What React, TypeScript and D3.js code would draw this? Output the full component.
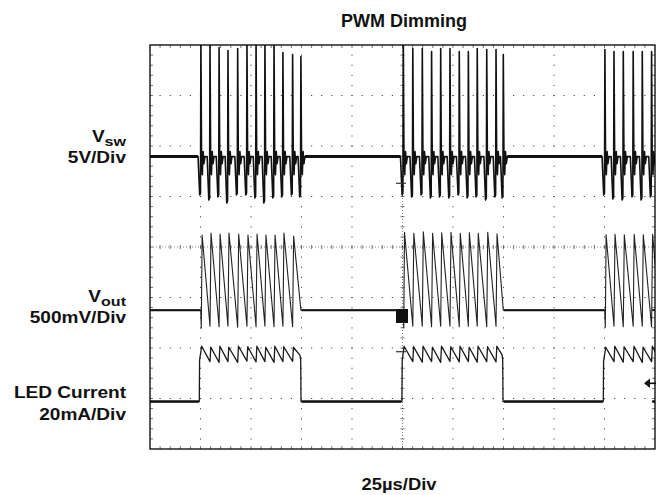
import React from "react";
import * as d3 from "d3";

const W = 657;
const H = 495;
const PLOT = { left: 150, right: 655, top: 45, bottom: 449 };

const TITLE = "PWM Dimming";
const TIME_LABEL = "25µs/Div";
const TIME_SPAN_US = 250; // 10 div x 25 µs
const H_DIVS = 10;
const V_DIVS = 8;

// ---- channel settings ----
const VSW_OFFSET_DIV = 1.79;
const VSW_PER_DIV = 5; // V
const VOUT_OFFSET_DIV = -1.25;
const VOUT_PER_DIV = 500; // mV
const LED_OFFSET_DIV = -3.06;
const LED_PER_DIV = 20; // mA

// ---- switching instants (µs) for the three PWM bursts ----
const burstTimes = [
  [25.2, 29.7, 34.2, 38.6, 43.4, 48.0, 52.5, 56.9, 61.4, 65.8, 70.6, 74.7],
  [125.4, 130.1, 134.8, 139.4, 143.9, 148.5, 153.1, 157.6, 162.0, 166.7, 171.3, 174.9],
  [225.2, 229.7, 234.3, 239.2, 243.7, 248.3],
];

// ---- Vsw (V) ----
const vswPeaks = [
  [11.5, 11.5, 10.8, 10.5, 10.7, 11.5, 11.5, 11.5, 11.5, 10.3, 10.1, 9.9],
  [11.5, 10.7, 10.7, 10.4, 10.7, 10.7, 10.4, 10.4, 10.7, 10.6, 10.6, 10.1],
  [10.6, 10.4, 10.4, 10.4, 10.4, 10.4],
];
const vswDips = [
  [-3.8, -4.3, -4.0, -4.6, -3.8, -3.8, -4.1, -4.6, -4.1, -4.0, -3.8, -4.0],
  [-3.8, -4.0, -3.8, -4.1, -4.0, -4.1, -3.8, -4.1, -4.0, -4.3, -4.0, -4.1],
  [-3.8, -4.2, -4.3, -4.0, -4.3, -4.0],
];

// ---- Vout (mV, AC) ----
const voutPeaks = [
  [743, 762, 752, 762, 752, 743, 752, 743, 743, 762, 733],
  [770, 760, 775, 760, 765, 770, 760, 765, 760, 770, 755],
  [745, 750, 745, 750, 745, 750],
];
const voutValleys = [
  [-160, -165, -158, -168, -160, -165, -158, -165, -160, -163],
  [-160, -158, -165, -160, -158, -165, -160, -158, -163, -160],
  [-160, -165, -160, -158, -165, -160],
];
const voutStartDip = [-178, -175, -170];

// ---- LED current (mA) ----
const ledOnTimes = [24.4, 124.7, 224.4];
const ledOffTimes = [74.6, 174.6];
const ledStep = [16.5, 16.3, 16.0];
const ledPeaks = [
  [21.9, 21.5, 21.9, 21.5, 21.9, 21.7, 21.9, 21.5, 21.9, 21.7, 21.5],
  [21.9, 21.7, 21.9, 21.5, 21.9, 21.7, 21.9, 21.5, 21.9, 21.7, 21.9],
  [21.5, 21.9, 21.7, 21.9, 21.5, 21.9],
];
const ledValleys = [
  [15.8, 15.5, 15.8, 15.5, 16.0, 15.7, 15.8, 15.5, 15.8, 15.9],
  [15.8, 15.6, 15.8, 15.5, 15.9, 15.7, 15.8, 15.6, 15.8, 15.7],
  [15.8, 15.6, 15.8, 15.5, 15.8, 15.6],
];
const ledPreOff = [18.3, 18.5];

const x = d3.scaleLinear().domain([0, TIME_SPAN_US]).range([PLOT.left, PLOT.right]);
const yDiv = d3.scaleLinear().domain([-V_DIVS / 2, V_DIVS / 2]).range([PLOT.bottom, PLOT.top]);

type Pt = [number, number];

function vswPoints(): Pt[] {
  const pts: Pt[] = [[0, 0]];
  burstTimes.forEach((T, b) => {
    T.forEach((t, i) => {
      const P = vswPeaks[b][i];
      const D = vswDips[b][i];
      pts.push(
        [t - 1.4, 0],
        [t - 0.6, D],
        [t - 0.2, D * 0.95],
        [t, P],
        [t + 0.3, 0.6],
        [t + 0.7, -1.8],
        [t + 1.1, 0.5],
        [t + 1.5, -0.7],
        [t + 2.0, 0]
      );
    });
  });
  pts.push([TIME_SPAN_US, 0]);
  return pts;
}

function voutPoints(): Pt[] {
  const pts: Pt[] = [[0, 0]];
  burstTimes.forEach((T, b) => {
    const P = voutPeaks[b];
    const V = voutValleys[b];
    pts.push([T[0] - 0.1, 0], [T[0] + 0.2, voutStartDip[b]], [T[0] + 0.6, P[0]]);
    for (let i = 1; i < P.length; i++) {
      pts.push([T[i], V[i - 1]], [T[i] + 0.5, P[i]]);
    }
    if (T.length > P.length) {
      pts.push([T[T.length - 1], 0], [T[T.length - 1] + 1, 0]);
    } else {
      const last = T[T.length - 1];
      pts.push([last + 4.5, V[V.length - 1]]);
    }
  });
  pts.push([TIME_SPAN_US + 10, 0]);
  return pts.sort((a, b) => a[0] - b[0]);
}

function ledPoints(): Pt[] {
  const pts: Pt[] = [[0, 0]];
  burstTimes.forEach((T, b) => {
    const P = ledPeaks[b];
    const V = ledValleys[b];
    const on = ledOnTimes[b];
    pts.push([on, 0], [on + 0.15, ledStep[b]], [T[0] + 0.4, P[0]]);
    for (let i = 1; i < P.length; i++) {
      pts.push([T[i], V[i - 1]], [T[i] + 0.4, P[i]]);
    }
    if (b < ledOffTimes.length) {
      const off = ledOffTimes[b];
      pts.push([off - 0.3, ledPreOff[b]], [off, ledPreOff[b] - 2], [off + 0.15, 0]);
    } else {
      pts.push([T[T.length - 1] + 4.5, V[V.length - 1]]);
    }
  });
  pts.push([TIME_SPAN_US + 10, 0]);
  return pts;
}

const mkLine = (offset: number, perDiv: number) =>
  d3
    .line<Pt>()
    .x((d) => x(d[0]))
    .y((d) => yDiv(offset + d[1] / perDiv));

const vswLine = mkLine(VSW_OFFSET_DIV, VSW_PER_DIV);
const voutLine = mkLine(VOUT_OFFSET_DIV, VOUT_PER_DIV);
const ledLine = mkLine(LED_OFFSET_DIV, LED_PER_DIV);

// flat (idle) intervals, for thicker noisy baseline look
function idleSegments(pre: number, post: number): Pt[][] {
  const segs: Pt[][] = [];
  let start = 0;
  burstTimes.forEach((T) => {
    segs.push([
      [start, 0],
      [T[0] - pre, 0],
    ]);
    start = T[T.length - 1] + post;
  });
  if (start < TIME_SPAN_US) segs.push([[start, 0], [TIME_SPAN_US, 0]]);
  return segs;
}

function Grid() {
  const dx = (PLOT.right - PLOT.left) / H_DIVS;
  const dy = (PLOT.bottom - PLOT.top) / V_DIVS;
  const els: React.ReactNode[] = [];
  const dotColor = "#4a4a4a";
  for (let k = 1; k < H_DIVS; k++) {
    if (k === H_DIVS / 2) continue;
    const gx = PLOT.left + k * dx;
    for (let j = 1; j < V_DIVS * 5; j++) {
      const gy = PLOT.top + (j * dy) / 5;
      els.push(<rect key={`v${k}-${j}`} x={gx - 0.5} y={gy - 0.5} width={1} height={1.2} fill={dotColor} />);
    }
  }
  for (let k = 1; k < V_DIVS; k++) {
    if (k === V_DIVS / 2) continue;
    const gy = PLOT.top + k * dy;
    for (let j = 1; j < H_DIVS * 5; j++) {
      const gx = PLOT.left + (j * dx) / 5;
      els.push(<rect key={`h${k}-${j}`} x={gx - 0.6} y={gy - 0.5} width={1.2} height={1} fill={dotColor} />);
    }
  }
  const cx = PLOT.left + (H_DIVS / 2) * dx;
  const cy = PLOT.top + (V_DIVS / 2) * dy;
  els.push(
    <line key="cxl" x1={cx} x2={cx} y1={PLOT.top} y2={PLOT.bottom} stroke="#777" strokeWidth={0.9} strokeDasharray="1 2" />
  );
  els.push(
    <line key="cyl" x1={PLOT.left} x2={PLOT.right} y1={cy} y2={cy} stroke="#777" strokeWidth={0.9} strokeDasharray="1 2" />
  );
  for (let j = 1; j < V_DIVS * 5; j++) {
    const gy = PLOT.top + (j * dy) / 5;
    els.push(<line key={`ct${j}`} x1={cx - 2} x2={cx + 2} y1={gy} y2={gy} stroke="#555" strokeWidth={0.8} />);
  }
  for (let j = 1; j < H_DIVS * 5; j++) {
    const gx = PLOT.left + (j * dx) / 5;
    els.push(<line key={`cht${j}`} x1={gx} x2={gx} y1={cy - 2} y2={cy + 2} stroke="#555" strokeWidth={0.8} />);
  }
  for (let j = 1; j < V_DIVS * 5; j++) {
    const gy = PLOT.top + (j * dy) / 5;
    els.push(<line key={`fl${j}`} x1={PLOT.left} x2={PLOT.left + 3} y1={gy} y2={gy} stroke="#555" strokeWidth={0.8} />);
    els.push(<line key={`fr${j}`} x1={PLOT.right - 3} x2={PLOT.right} y1={gy} y2={gy} stroke="#555" strokeWidth={0.8} />);
  }
  for (let j = 1; j < H_DIVS * 5; j++) {
    const gx = PLOT.left + (j * dx) / 5;
    els.push(<line key={`ft${j}`} x1={gx} x2={gx} y1={PLOT.top} y2={PLOT.top + 3} stroke="#555" strokeWidth={0.8} />);
    els.push(<line key={`fb${j}`} x1={gx} x2={gx} y1={PLOT.bottom - 3} y2={PLOT.bottom} stroke="#555" strokeWidth={0.8} />);
  }
  return <g>{els}</g>;
}

const FONT = "'Liberation Sans', Arial, Helvetica, sans-serif";

function Label({ x0, y0, children, anchor = "end", size = 16, sx = 1.19 }: any) {
  return (
    <g transform={`translate(${x0},${y0}) scale(${sx},1)`}>
      <text x={0} y={0} textAnchor={anchor} fontFamily={FONT} fontWeight="bold" fontSize={size} fill="#111">
        {children}
      </text>
    </g>
  );
}

export default function App() {
  const vswD = vswLine(vswPoints()) || "";
  const voutD = voutLine(voutPoints()) || "";
  const ledD = ledLine(ledPoints()) || "";
  return (
    <svg
      width={W}
      height={H}
      viewBox={`0 0 ${W} ${H}`}
      style={{ position: "absolute", left: 0, top: 0, background: "#fff" }}
    >
      <defs>
        <clipPath id="plotClip">
          <rect x={PLOT.left} y={PLOT.top} width={PLOT.right - PLOT.left} height={PLOT.bottom - PLOT.top} />
        </clipPath>
      </defs>
      <rect x={0} y={0} width={W} height={H} fill="#fff" />
      <Grid />
      <g clipPath="url(#plotClip)" fill="none" strokeLinejoin="round">
        <path d={voutD} stroke="#222" strokeWidth={1.1} />
        {idleSegments(0.2, 0.3).map((s, i) => (
          <path key={`vo${i}`} d={voutLine(s) || ""} stroke="#111" strokeWidth={2} />
        ))}
        <path d={ledD} stroke="#1a1a1a" strokeWidth={1.3} />
        {idleSegments(1.0, 0.3).map((s, i) => (
          <path key={`le${i}`} d={ledLine(s) || ""} stroke="#111" strokeWidth={2.6} />
        ))}
        <path d={vswD} stroke="#111" strokeWidth={1.6} />
        {idleSegments(1.4, 2.0).map((s, i) => (
          <path key={`vs${i}`} d={vswLine(s) || ""} stroke="#111" strokeWidth={3} />
        ))}
      </g>
      {/* channel / trigger markers */}
      <rect x={396} y={309} width={12} height={14} fill="#111" />
      <line x1={396} x2={406} y1={183.3} y2={183.3} stroke="#333" strokeWidth={1.2} />
      <line x1={396} x2={406} y1={351.7} y2={351.7} stroke="#333" strokeWidth={1.2} />
      <path d="M644,383.3 L650,378.6 L650,388 Z" fill="#111" />
      <line x1={650} x2={656} y1={383.3} y2={383.3} stroke="#111" strokeWidth={1.6} />
      <rect
        x={PLOT.left}
        y={PLOT.top}
        width={PLOT.right - PLOT.left}
        height={PLOT.bottom - PLOT.top}
        fill="none"
        stroke="#000"
        strokeWidth={1.3}
      />
      {/* texts */}
      <Label x0={404} y0={27} anchor="middle" size={18} sx={1.0}>
        {TITLE}
      </Label>
      <Label x0={126} y0={141.7}>
        <tspan>V</tspan>
        <tspan fontSize={13.5} dy={4}>
          sw
        </tspan>
      </Label>
      <Label x0={126} y0={163.3}>5V/Div</Label>
      <Label x0={126} y0={301.7}>
        <tspan>V</tspan>
        <tspan fontSize={13.5} dy={4}>
          out
        </tspan>
      </Label>
      <Label x0={126} y0={323.3}>500mV/Div</Label>
      <Label x0={126} y0={397.5}>LED Current</Label>
      <Label x0={126} y0={420}>20mA/Div</Label>
      <Label x0={399} y0={490} anchor="middle" sx={1.15}>
        {TIME_LABEL}
      </Label>
    </svg>
  );
}
